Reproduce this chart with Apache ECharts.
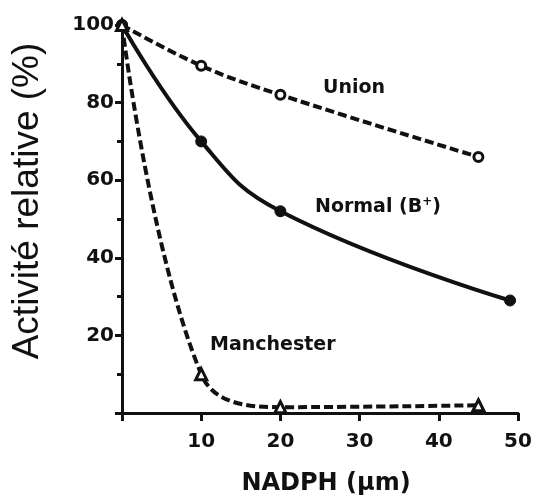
<!DOCTYPE html>
<html>
<head>
<meta charset="utf-8">
<script src="https://cdn.jsdelivr.net/npm/echarts@6/dist/echarts.min.js"></script>
<style>
  html, body { margin: 0; padding: 0; background: #fff; }
  #chart { width: 535px; height: 503px; }
</style>
</head>
<body>
<div id="chart"></div>
<script>
// données
const unionData = [[0, 100], [10, 89.5], [20, 82], [45, 66]]
const normalData = [[0, 100], [10, 70], [20, 52], [49, 29]]
const manchesterData = [[0, 100], [10, 10], [20, 1.5], [45, 2]]
const xTicks = [10, 20, 30, 40, 50]
const yTicks = [20, 40, 60, 80, 100]

const ink = '#111'
const boldFont = 'DejaVu Sans'

const chart = echarts.init(document.getElementById('chart'))

const option = {
  animation: false,
  backgroundColor: '#fff',
  grid: { left: 122, right: 17, top: 25, bottom: 90 },
  xAxis: {
    type: 'value',
    min: 0,
    max: 50,
    interval: 10,
    splitLine: { show: false },
    axisLine: { lineStyle: { color: ink, width: 3 } },
    axisTick: { show: true, length: 8, lineStyle: { color: ink, width: 3 } },
    axisLabel: {
      color: ink,
      fontFamily: boldFont,
      fontWeight: 'bold',
      fontSize: 20,
      margin: 19,
      formatter: (v) => (xTicks.includes(v) ? String(v) : ''),
    },
  },
  yAxis: {
    type: 'value',
    min: 0,
    max: 100,
    interval: 20,
    splitLine: { show: false },
    axisLine: { lineStyle: { color: ink, width: 3 } },
    axisTick: { show: true, length: 7, lineStyle: { color: ink, width: 3 } },
    minorTick: { show: true, splitNumber: 2, length: 5, lineStyle: { color: ink, width: 3 } },
    axisLabel: {
      color: ink,
      fontFamily: boldFont,
      fontWeight: 'bold',
      fontSize: 20,
      margin: 8,
      formatter: (v) => (yTicks.includes(v) ? String(v) : ''),
    },
  },
  series: [
    {
      name: 'Union',
      type: 'line',
      data: unionData,
      smooth: 0.4,
      symbol: 'circle',
      symbolSize: 9,
      itemStyle: { color: '#fff', borderColor: ink, borderWidth: 3 },
      lineStyle: { color: ink, width: 4, type: [9, 4] },
    },
    {
      name: 'Normal (B+)',
      type: 'line',
      data: normalData,
      smooth: 0.45,
      symbol: 'circle',
      symbolSize: 11,
      itemStyle: { color: ink, borderColor: ink, borderWidth: 1 },
      lineStyle: { color: ink, width: 4 },
    },
    {
      name: 'Manchester',
      type: 'line',
      data: manchesterData,
      smooth: 0.4,
      symbol: 'triangle',
      symbolSize: 11,
      itemStyle: { color: '#fff', borderColor: ink, borderWidth: 3 },
      lineStyle: { color: ink, width: 4, type: [9, 4] },
    },
  ],
  graphic: [
    {
      type: 'text',
      x: 28,
      y: 201,
      rotation: Math.PI / 2,
      style: {
        text: 'Activité relative (%)',
        font: '37px "Liberation Sans"',
        fill: ink,
        align: 'center',
        verticalAlign: 'middle',
      },
    },
    {
      type: 'text',
      x: 326,
      y: 484,
      style: {
        text: 'NADPH (µm)',
        font: 'bold 24px "DejaVu Sans"',
        fill: ink,
        align: 'center',
        verticalAlign: 'middle',
      },
    },
    {
      type: 'text',
      x: 323,
      y: 88,
      style: {
        text: 'Union',
        font: 'bold 19px "DejaVu Sans"',
        fill: ink,
        verticalAlign: 'middle',
      },
    },
    {
      type: 'text',
      x: 315,
      y: 207,
      style: {
        text: 'Normal (B{sup|+})',
        font: 'bold 19px "DejaVu Sans"',
        fill: ink,
        verticalAlign: 'middle',
        rich: {
          sup: { font: 'bold 12px "DejaVu Sans"', fill: ink, verticalAlign: 'top', padding: [0, 0, 10, 0] },
        },
      },
    },
    {
      type: 'text',
      x: 210,
      y: 345,
      style: {
        text: 'Manchester',
        font: 'bold 19px "DejaVu Sans"',
        fill: ink,
        verticalAlign: 'middle',
      },
    },
  ],
}

option && chart.setOption(option)
</script>
</body>
</html>
